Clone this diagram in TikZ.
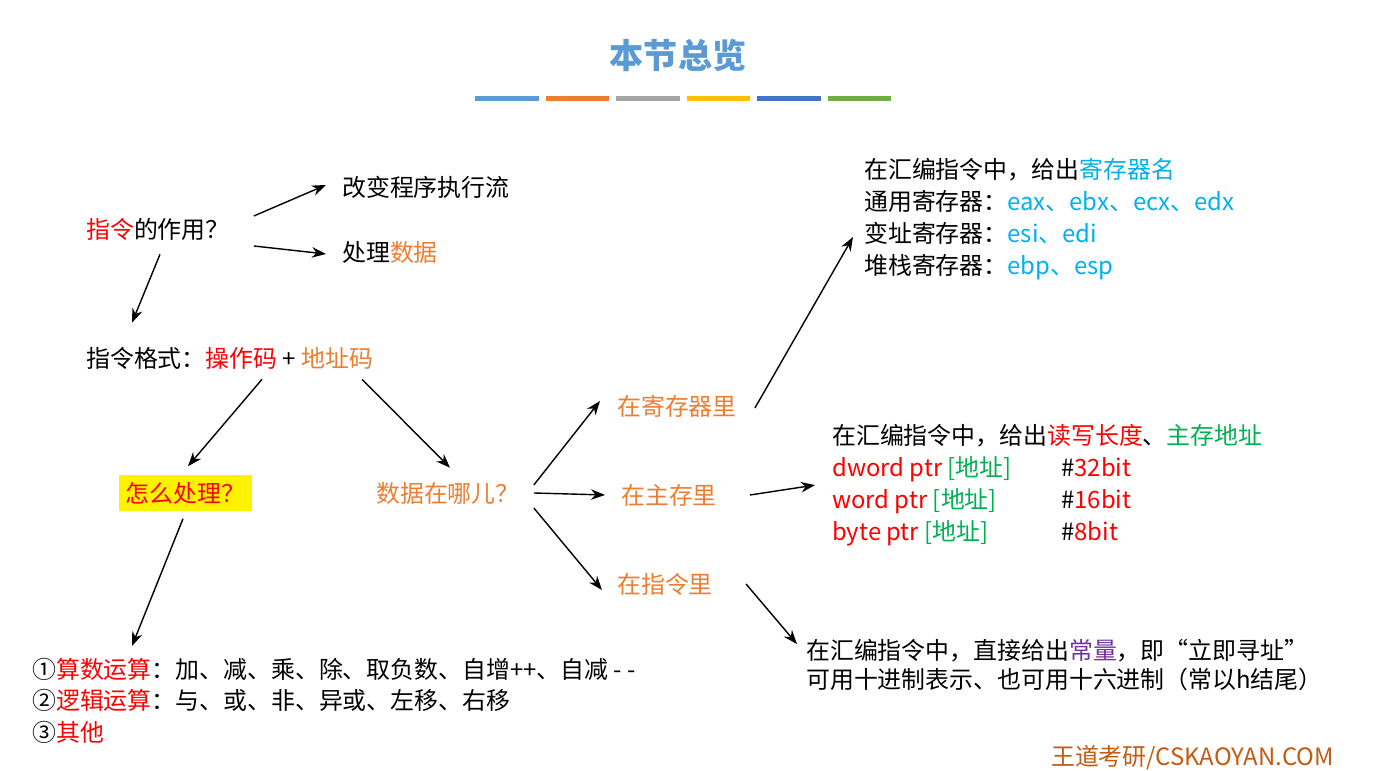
\documentclass[tikz,border=0pt]{standalone}
\usepackage{fontspec}
\setmainfont{Noto Sans CJK SC}
\usetikzlibrary{arrows.meta}
\definecolor{tblue}{HTML}{5B9BD5}
\definecolor{torange}{HTML}{ED7D31}
\definecolor{tgray}{HTML}{A5A5A5}
\definecolor{tyellow}{HTML}{FFC000}
\definecolor{tdblue}{HTML}{4472C4}
\definecolor{tgreen}{HTML}{70AD47}
\definecolor{tcyan}{HTML}{00B0F0}
\definecolor{tgr}{HTML}{00B050}
\definecolor{tpurple}{HTML}{7030A0}
\definecolor{tfoot}{HTML}{C55A11}
\newcommand{\Or}[1]{\textcolor{torange}{#1}}
\newcommand{\Rd}[1]{\textcolor{red}{#1}}
\newcommand{\Cy}[1]{\textcolor{tcyan}{#1}}
\newcommand{\Gr}[1]{\textcolor{tgr}{#1}}
\begin{document}
\begin{tikzpicture}[
  every node/.style={font=\fontsize{6.8}{9.1}\selectfont, inner sep=1pt},
  lbl/.style={anchor=west},
  blk/.style={anchor=north west, align=left},
  arr/.style={-{Stealth[length=4pt,width=3pt]}, thin}]

\useasboundingbox (0,0) rectangle (13.82,7.71);

% title
\node[font=\fontsize{9.7}{11}\selectfont\bfseries, text=tblue] (title) at (6.78,7.16) {本节总览};
\foreach \c [count=\i from 0] in {tblue,torange,tgray,tyellow,tdblue,tgreen}
    \fill[\c] (4.75+\i*0.705,6.70) rectangle ++(0.635,0.05);

% left tree
\node[lbl] (q1) at (0.82,5.42) {\Rd{指令}的作用？};
\node[lbl] (c1) at (3.38,5.84) {改变程序执行流};
\node[lbl] (c2) at (3.38,5.19) {处理\Or{数据}};
\node[lbl] (fmt) at (0.82,4.13) {指令格式：\Rd{操作码} + \Or{地址码}};
\node[lbl, fill=yellow, inner sep=2pt] (how) at (1.18,2.78) {\Rd{怎么处理？}};
\node[lbl] (where) at (3.72,2.78) {\Or{数据在哪儿？}};

\node[lbl] (reg) at (6.13,3.65) {\Or{在寄存器里}};
\node[lbl] (mem) at (6.17,2.76) {\Or{在主存里}};
\node[lbl] (ins) at (6.13,1.87) {\Or{在指令里}};

% right blocks
\node[blk] (regtxt) at (8.60,6.17) {在汇编指令中，给出\Cy{寄存器名}\\
通用寄存器：\Cy{eax、ebx、ecx、edx}\\
变址寄存器：\Cy{esi、edi}\\
堆栈寄存器：\Cy{ebp、esp}};

\node[blk] (memtxt) at (8.28,3.51) {在汇编指令中，给出\Rd{读写长度}、\Gr{主存地址}\\
\makebox[2.29cm][l]{\Rd{dword ptr} \Gr{[地址]}}\#\Rd{32bit}\\
\makebox[2.29cm][l]{\Rd{word ptr} \Gr{[地址]}}\#\Rd{16bit}\\
\makebox[2.29cm][l]{\Rd{byte ptr} \Gr{[地址]}}\#\Rd{8bit}};

\node[blk, font=\fontsize{6.8}{8.3}\selectfont] (instxt) at (8.02,1.36) {在汇编指令中，直接给出\textcolor{tpurple}{常量}，即“立即寻址”\\
可用十进制表示、也可用十六进制（常以h结尾）};

\node[blk, font=\fontsize{6.8}{8.9}\selectfont] (ops) at (0.28,1.17) {①\Rd{算数运算}：加、减、乘、除、取负数、自增++、自减 - -\\
②\Rd{逻辑运算}：与、或、非、异或、左移、右移\\
③\Rd{其他}};

\node[anchor=east, text=tfoot] (foot) at (13.38,0.13) {王道考研/CSKAOYAN.COM};

% arrows
\draw[arr] ([shift={(0.2,0.13)}]q1.east) -- ([shift={(-0.12,0.02)}]c1.west);
\draw[arr] ([shift={(0.2,-0.17)}]q1.east) -- ([shift={(-0.12,-0.02)}]c2.west);
\draw[arr] ([shift={(0.78,-0.1)}]q1.south west) -- ([shift={(0.5,0.2)}]fmt.north west);
\draw[arr] ([shift={(1.8,-0.06)}]fmt.south west) -- ([shift={(0.7,0.08)}]how.north west);
\draw[arr] ([shift={(2.8,-0.06)}]fmt.south west) -- ([shift={(0.78,0.1)}]where.north west);
\draw[arr] ([xshift=0.1cm,yshift=0.08cm]where.east) -- ([xshift=-0.13cm,yshift=0.05cm]reg.west);
\draw[arr] ([xshift=0.1cm,yshift=0.0cm]where.east) -- ([xshift=-0.12cm]mem.west);
\draw[arr] ([xshift=0.1cm,yshift=-0.15cm]where.east) -- ([xshift=-0.11cm,yshift=-0.06cm]ins.west);
\draw[arr] ([shift={(0.14,-0.02)}]reg.east) -- ([shift={(-0.07,-0.18)}]regtxt.west);
\draw[arr] ([shift={(0.29,0.0)}]mem.east) -- ([shift={(-0.13,0.0)}]memtxt.west);
\draw[arr] ([shift={(0.29,0.0)}]ins.east) -- ([shift={(-0.05,0.21)}]instxt.west);
\draw[arr] ([shift={(0.65,-0.07)}]how.south west) -- ([shift={(1.04,0.08)}]ops.north west);

\end{tikzpicture}
\end{document}
